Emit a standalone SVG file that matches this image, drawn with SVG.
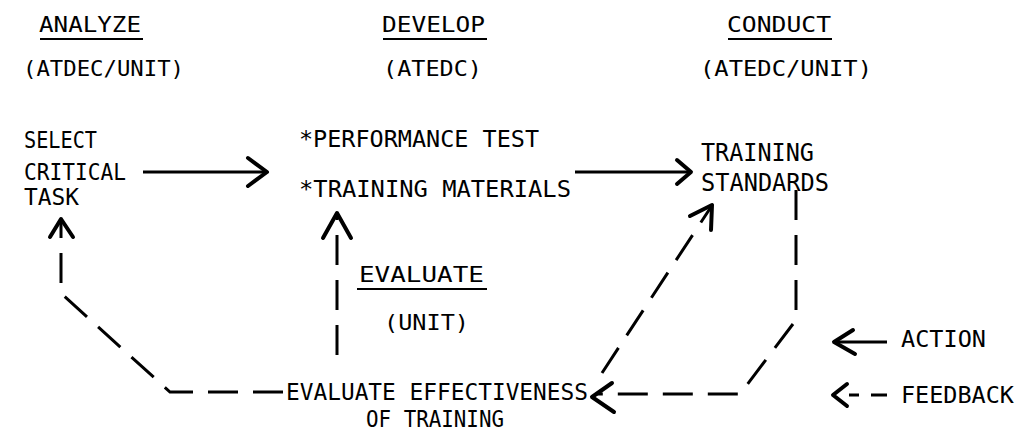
<svg xmlns="http://www.w3.org/2000/svg" width="1024" height="434" viewBox="0 0 1024 434">
<style>
text{font-family:"DejaVu Sans Mono","Liberation Mono",monospace;font-size:23px;fill:#000}
.h{font-size:21px}
.big{font-size:25px}
.ul{stroke:#000;stroke-width:2;fill:none}
.act{stroke:#000;stroke-width:3;fill:none}
.fb{stroke:#000;stroke-width:3;fill:none;stroke-dasharray:30 15}
.head{stroke:#000;stroke-width:4;fill:none;stroke-linecap:round;stroke-linejoin:round}
</style>
<rect width="1024" height="434" fill="#fff"/>
<g id="analyze">
<text class="h" x="39" y="32" textLength="102" lengthAdjust="spacingAndGlyphs">ANALYZE</text>
<line class="ul" x1="40" y1="39" x2="143" y2="39"/>
<text class="h" x="23" y="76" textLength="161" lengthAdjust="spacingAndGlyphs">(ATDEC/UNIT)</text>
</g>
<g id="develop">
<text class="h" x="382" y="32" textLength="103" lengthAdjust="spacingAndGlyphs">DEVELOP</text>
<line class="ul" x1="383" y1="39" x2="487" y2="39"/>
<text class="h" x="383" y="76" textLength="99" lengthAdjust="spacingAndGlyphs">(ATEDC)</text>
</g>
<g id="conduct">
<text class="h" x="727" y="32" textLength="104" lengthAdjust="spacingAndGlyphs">CONDUCT</text>
<line class="ul" x1="728" y1="39" x2="832" y2="39"/>
<text class="h" x="700" y="76" textLength="172" lengthAdjust="spacingAndGlyphs">(ATEDC/UNIT)</text>
</g>
<g id="select-critical-task">
<text x="24" y="148" textLength="73" lengthAdjust="spacingAndGlyphs">SELECT</text>
<text x="24" y="180" textLength="102" lengthAdjust="spacingAndGlyphs">CRITICAL</text>
<text x="24" y="205" textLength="55" lengthAdjust="spacingAndGlyphs">TASK</text>
</g>
<g id="develop-items">
<text x="299" y="147" textLength="240" lengthAdjust="spacingAndGlyphs">*PERFORMANCE TEST</text>
<text x="299" y="197" textLength="272" lengthAdjust="spacingAndGlyphs">*TRAINING MATERIALS</text>
</g>
<g id="training-standards">
<text class="big" x="701" y="161" textLength="113" lengthAdjust="spacingAndGlyphs">TRAINING</text>
<text class="big" x="701" y="191" textLength="128" lengthAdjust="spacingAndGlyphs">STANDARDS</text>
</g>
<g id="evaluate-label">
<text class="h" x="359" y="282" textLength="125" lengthAdjust="spacingAndGlyphs">EVALUATE</text>
<line class="ul" x1="357" y1="289" x2="487" y2="289"/>
<text class="h" x="384" y="330" textLength="85" lengthAdjust="spacingAndGlyphs">(UNIT)</text>
</g>
<g id="evaluate-effectiveness">
<text x="286" y="400" textLength="302" lengthAdjust="spacingAndGlyphs">EVALUATE EFFECTIVENESS</text>
<text x="366" y="427" textLength="138" lengthAdjust="spacingAndGlyphs">OF TRAINING</text>
</g>
<g id="legend">
<path class="act" d="M887,342 H836"/>
<path class="head" d="M853,330 L834,342 L855,354"/>
<text x="901" y="347" textLength="85" lengthAdjust="spacingAndGlyphs">ACTION</text>
<path class="act" d="M887,395 H871 M859,395 H849"/>
<path class="head" d="M847,384 L833,395 L847,406"/>
<text x="901" y="403" textLength="113" lengthAdjust="spacingAndGlyphs">FEEDBACK</text>
</g>
<g id="connectors">
<path class="act" d="M143,172 H266"/>
<path class="head" d="M248,158 L267,172 L248,186"/>
<path class="act" d="M575,172 H690"/>
<path class="head" d="M677,160 L691,172 L677,184"/>
<path class="fb" d="M796,190 V320 L740,394 H596"/>
<path class="head" d="M612,383 L592,397 L614,412"/>
<path class="fb" d="M602,373 L711,207"/>
<path class="head" d="M690,216 L712,205 L711,230"/>
<path class="fb" d="M283,392 H170 L64,296 L61,292 V220"/>
<path class="head" d="M50,237 L61,219 L73,237"/>
<path class="fb" d="M337,355 V214"/>
<path class="head" d="M323,238 L337,213 L351,238"/>
</g>
</svg>
